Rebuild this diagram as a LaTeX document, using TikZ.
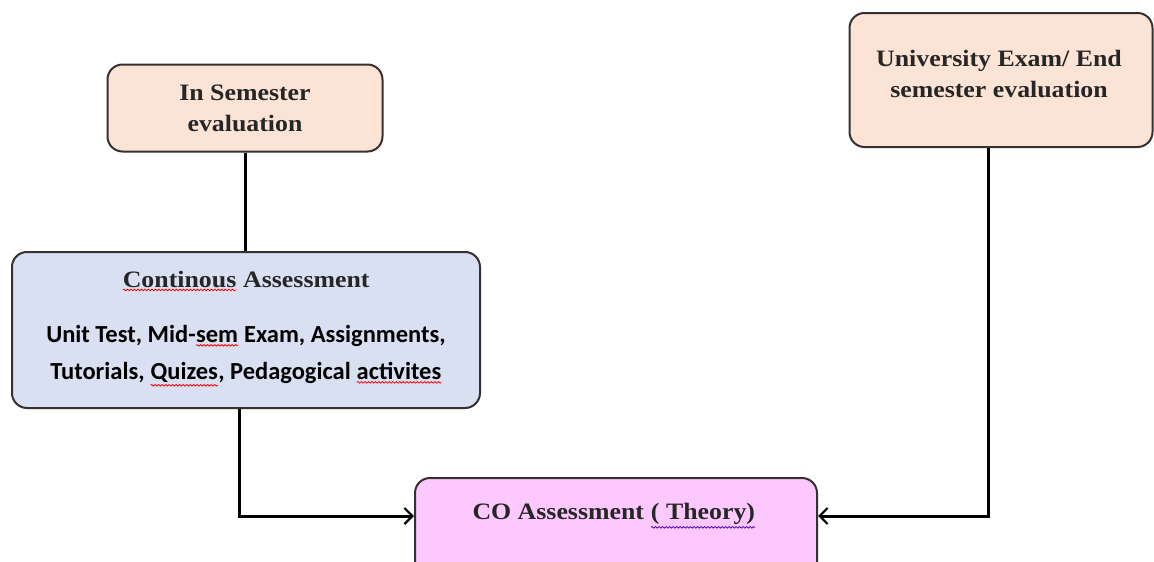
\documentclass[tikz,border=0pt]{standalone}
\usepackage{fontspec}
\setmainfont{Liberation Serif}[FakeStretch=1.1]
\newfontfamily\calibri{Carlito}
\usetikzlibrary{arrows.meta,calc,decorations.pathmorphing}

\definecolor{peach}{RGB}{251,228,213}
\definecolor{paleblue}{RGB}{217,224,242}
\definecolor{pink}{RGB}{253,200,253}
\definecolor{edge}{RGB}{55,48,48}

% word with a wavy proofing underline
\newcommand\wavyword[2]{\tikz[baseline=(w.base)]{%
  \node[inner sep=0pt,outer sep=0pt] (w) {#2};%
  \draw[#1,line width=0.8pt,decorate,decoration={snake,amplitude=0.8pt,segment length=3.5pt}]
    ([yshift=-2.5pt]w.south west) -- ([yshift=-2.5pt]w.south east);}}

\tikzset{
  box/.style={draw=edge,line width=2pt,rounded corners=15pt},
  title/.style={font=\bfseries\fontsize{23.5}{31}\selectfont,align=center,text=black!85},
  body/.style={font=\calibri\bfseries\fontsize{24.5}{37}\selectfont,align=center},
  link/.style={line width=3pt,-{Straight Barb[length=8pt,width=16pt,line width=2.2pt]}},
  plain/.style={line width=3pt}
}

\begin{document}
\begin{tikzpicture}[x=1pt,y=-1pt]
\useasboundingbox (0,0) rectangle (1154,562);
\clip (0,0) rectangle (1154,562);

% upper boxes
\node[box,fill=peach,minimum width=275pt,minimum height=87pt,title] (ise) at (245,108)
  {In Semester\\evaluation};
\node[box,fill=peach,minimum width=303pt,minimum height=134pt] (uni) at (1001,80) {};
\node[title] (unitext) at (999,74) {University Exam/ End\\semester evaluation};

% continuous assessment
\node[box,fill=paleblue,minimum width=468pt,minimum height=156pt] (ca) at (246,330) {};
\node[title] (catitle) at (246,281) {\wavyword{red}{Continous} Assessment};
\node[body] (catext) at (246,356)
  {Unit Test, Mid-\wavyword{red}{sem} Exam, Assignments,\\
   Tutorials, \wavyword{red}{Quizes}, Pedagogical \wavyword{red}{activites}};

% CO assessment
\node[box,fill=pink,minimum width=402pt,minimum height=110pt] (co) at (616,533) {};
\node[title] (cotext) at (614,516) {CO Assessment \wavyword{blue!70!red}{( Theory)}};

% connectors
\draw[plain] (ise.south) -- (ca.north -| ise.south);
\draw[link] ($(ca.south)+(-7,0)$) |- (cotext -| co.west);
\draw[link] ($(uni.south)+(-13,0)$) |- (cotext -| co.east);
\end{tikzpicture}
\end{document}
